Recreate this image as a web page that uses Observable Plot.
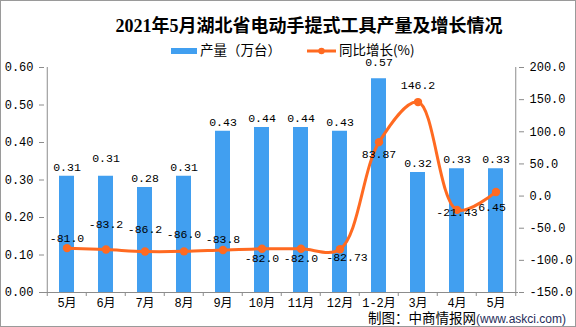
<!DOCTYPE html>
<html><head><meta charset="utf-8">
<script src="https://cdn.jsdelivr.net/npm/d3@7"></script>
<script src="https://cdn.jsdelivr.net/npm/@observablehq/plot@0.6"></script>
<style>
html,body{margin:0;padding:0;background:#fff;}
#wrap{position:relative;width:576px;height:327px;overflow:hidden;background:#fff;font-family:"Noto Sans CJK SC",sans-serif;}
#wrap svg{position:absolute;left:0;top:0;}
#border{position:absolute;left:0;top:0;width:574px;height:325px;border:1px solid #9a9a9a;pointer-events:none;}
#title{position:absolute;left:0;top:15px;width:618px;text-align:center;font:bold 18px "Liberation Serif","Noto Sans CJK SC",serif;line-height:22px;color:#000;white-space:nowrap;}
.leg{position:absolute;top:40px;height:18px;line-height:18px;font-size:13.5px;color:#000;white-space:nowrap;}
#footer{position:absolute;left:368px;top:309px;line-height:14px;white-space:nowrap;}
#footer .a{font-size:13.5px;color:#000;}
#footer .b{font-family:"Liberation Sans",Arial,sans-serif;font-size:12px;color:#1f2d5a;}
</style>
</head><body>
<div id="wrap">
  <div id="chart"></div>
  <div id="title"></div>
  <div class="leg" style="left:171px;"><span style="display:inline-block;width:26px;height:6px;background:#419ff0;vertical-align:middle;margin-right:3px;"></span><span id="leg1"></span></div>
  <div class="leg" style="left:307px;"><svg width="30" height="18" style="position:static;vertical-align:middle;margin-right:2px;"><line x1="0" y1="9" x2="29" y2="9" stroke="#ff6a21" stroke-width="3"/><circle cx="14.5" cy="9" r="3.2" fill="#ff6a21"/></svg><span id="leg2"></span></div>
  <div id="footer"><span class="a">制图：中商情报网</span><span class="b">(www.askci.com)</span></div>
  <div id="border"></div>
</div>
<script>
const titleText = "2021年5月湖北省电动手提式工具产量及增长情况";
const seriesNames = ["产量（万台）", "同比增长(%)"];
const months = ["5月","6月","7月","8月","9月","10月","11月","12月","1-2月","3月","4月","5月 "];
const output = [0.31,0.31,0.28,0.31,0.43,0.44,0.44,0.43,0.57,0.32,0.33,0.33];
const growth = [-81.0,-83.2,-86.2,-86.0,-83.8,-82.0,-82.0,-82.73,83.87,146.2,-21.43,6.45];
const growthLabels = ["-81.0","-83.2","-86.2","-86.0","-83.8","-82.0","-82.0","-82.73","83.87","146.2","-21.43","6.45"];
const leftTicks = [0,0.1,0.2,0.3,0.4,0.5,0.6];
const rightTicks = [-150,-100,-50,0,50,100,150,200];

document.getElementById("title").textContent = titleText;
document.getElementById("leg1").textContent = seriesNames[0];
document.getElementById("leg2").textContent = seriesNames[1];

const BLUE = "#419ff0", ORANGE = "#ff6a21", AXIS = "#8c8c8c";
const yMax = 0.6, gMin = -150, gMax = 200;
const toY = g => (g - gMin) / (gMax - gMin) * yMax;
const fromY = y => y / yMax * (gMax - gMin) + gMin;

const W = 576, H = 327, mL = 44, mR = 58, mT = 67, mB = 35;
const step = (W - mL - mR) / months.length;
const pxPerUnit = (H - mT - mB) / yMax;

// label placement (style only)
const growthDy = [-10,-25,-22,-17,-11,10,10,8,12,-17,2,15];
const growthDx = [0,0,0,0,0,0,0,7,0,0,0,-4];
const barDy = [-9,-18,-9,-9,-9,-9,-9,-9,-16,-9,-9,-9];

const data = months.map((m, i) => ({m, v: output[i], g: growth[i], gl: growthLabels[i], i}));

const chart = Plot.plot({
  width: W, height: H,
  marginLeft: mL, marginRight: mR, marginTop: mT, marginBottom: mB,
  x: {domain: months, paddingInner: 0.62, paddingOuter: 0.31, label: null},
  y: {domain: [0, yMax], label: null},
  style: {fontFamily: "'Liberation Mono','Noto Sans CJK SC',monospace", fontSize: "12px", color: "#000", background: "transparent"},
  marks: [
    Plot.barY(data, {x: "m", y: "v", fill: BLUE}),
    Plot.ruleY([0], {stroke: AXIS}),
    Plot.ruleX([months[0]], {x: d => d, dx: -step/2, y1: 0, y2: yMax, stroke: AXIS}),
    Plot.ruleX([months[months.length-1]], {x: d => d, dx: step/2, y1: 0, y2: yMax, stroke: AXIS}),
    Plot.ruleX(months, {x: d => d, dx: -step/2, y1: 0, y2: -4/pxPerUnit, stroke: AXIS}),
    Plot.ruleX([months[months.length-1]], {x: d => d, dx: step/2, y1: 0, y2: -4/pxPerUnit, stroke: AXIS}),
    Plot.line(data, {x: "m", y: d => toY(d.g), stroke: ORANGE, strokeWidth: 3, curve: "catmull-rom"}),
    Plot.dot(data, {x: "m", y: d => toY(d.g), r: 4.2, fill: ORANGE, stroke: "none"}),
    ...data.map(d => Plot.text([d], {x: "m", y: "v", text: e => e.v.toFixed(2), dy: barDy[d.i], fill: "#000", fontSize: 11.5})),
    ...data.map(d => Plot.text([d], {x: "m", y: e => toY(e.g), text: "gl", dy: growthDy[d.i], dx: growthDx[d.i], fill: "#000", fontSize: 11.5})),
    Plot.axisY({ticks: leftTicks, tickFormat: d => d.toFixed(2), tickSize: 5, tickPadding: 6, stroke: AXIS, fill: "#000", fontSize: 12, label: null}),
    Plot.axisY({anchor: "right", ticks: rightTicks.map(toY), tickFormat: d => Math.round(fromY(d)).toFixed(1), tickSize: 5, tickPadding: 6, stroke: AXIS, fill: "#000", fontSize: 12, label: null}),
    Plot.axisX({tickSize: 0, tickPadding: 6, fontSize: 12, fill: "#000", label: null, tickFormat: d => d.trim()})
  ]
});
document.getElementById("chart").appendChild(chart);
</script>
</body></html>
